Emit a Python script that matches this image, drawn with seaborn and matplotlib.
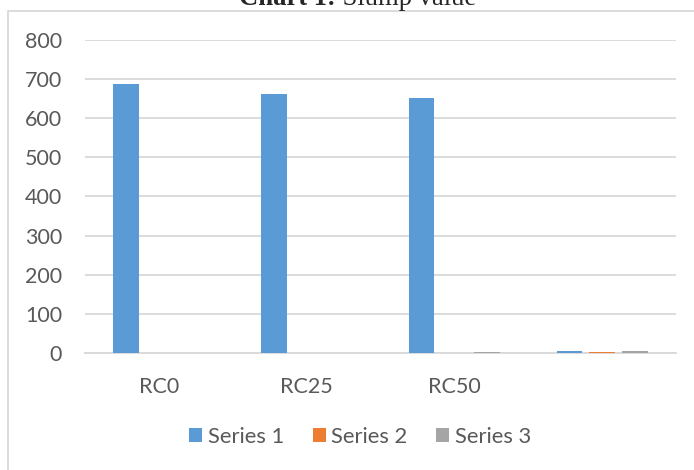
import matplotlib
matplotlib.use("Agg")
import matplotlib.pyplot as plt
import seaborn as sns
import pandas as pd
from matplotlib.patches import Rectangle

# Slump values per mix
categories = ["RC0", "RC25", "RC50", ""]
series_names = ["Series 1", "Series 2", "Series 3"]
series_1 = [686, 660, 650, 5]
series_2 = [0, 0, 1.5, 4]
series_3 = [1, 1, 3, 5]
y_ticks = [0, 100, 200, 300, 400, 500, 600, 700, 800]

colors = ["#5B9BD5", "#ED7D31", "#A5A5A5"]
grey_text = "#595959"
grid_grey = "#D9D9D9"

df = pd.DataFrame({
    "category": categories * 3,
    "series": [series_names[0]] * 4 + [series_names[1]] * 4 + [series_names[2]] * 4,
    "value": series_1 + series_2 + series_3,
})

sns.set_style("white")
plt.rcParams["font.family"] = ["Lato", "DejaVu Sans"]

W, H = 694, 470
fig = plt.figure(figsize=(W / 100, H / 100), dpi=100)
ax = fig.add_axes([85 / W, 1 - 353.3 / H, 591 / W, 313.8 / H])

sns.barplot(data=df, x="category", y="value", hue="series", order=categories,
            hue_order=series_names, palette=colors, saturation=1, errorbar=None,
            width=0.664, gap=0.22, linewidth=0, ax=ax, legend=True)
# keep the short bars visible above the baseline
for bar in ax.patches:
    bar.set_zorder(3)

ax.set_xlim(-0.5, 3.5)
ax.set_ylim(0, 800)
ax.set_yticks(y_ticks)
ax.set_yticklabels([str(v) for v in y_ticks])
ax.set_xlabel("")
ax.set_ylabel("")
ax.yaxis.grid(True, color=grid_grey, linewidth=1.3)
ax.set_axisbelow(True)
for side in ["left", "right", "top"]:
    ax.spines[side].set_visible(False)
ax.spines["bottom"].set_color(grid_grey)
ax.spines["bottom"].set_linewidth(1.3)
ax.spines["bottom"].set_zorder(1)
ax.tick_params(axis="y", length=0, pad=16.5, labelsize=15.5, labelcolor=grey_text)
ax.tick_params(axis="x", length=0, pad=17, labelsize=15.5, labelcolor=grey_text)

# Legend below the plot
handles, labels = ax.get_legend_handles_labels()
ax.get_legend().remove()
fig.legend(handles, labels, loc="center", bbox_to_anchor=(360 / W, 1 - 437 / H),
           ncol=3, frameon=False, fontsize=15.8, labelcolor=grey_text,
           handlelength=0.6, handleheight=0.6, handletextpad=0.25,
           columnspacing=1.3)

# Chart frame
fig.patches.append(Rectangle((8 / W, -0.1), 1.2, 1 - 11 / H + 0.1,
                             transform=fig.transFigure, fill=False,
                             edgecolor=grid_grey, linewidth=1.3, zorder=0))

# Title with bold prefix
t1 = fig.text(239 / W, 1 - 5 / H, "Chart 1:", family="Liberation Serif",
              fontweight="bold", fontsize=19.2, ha="left", va="baseline")
fig.canvas.draw()
bb = t1.get_window_extent()
fig.text(bb.x1 / W, 1 - 5 / H, " Slump value", family="Liberation Serif",
         fontsize=19.2, ha="left", va="baseline")

fig.savefig("out.png", dpi=100)
